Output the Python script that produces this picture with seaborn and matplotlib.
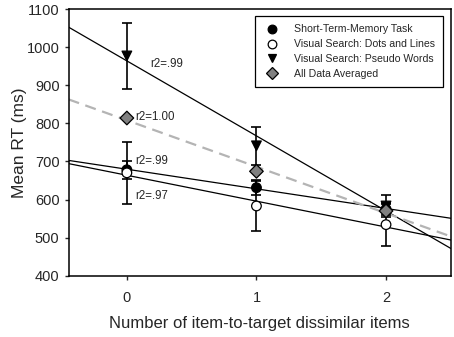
import numpy as np
import pandas as pd
import matplotlib.pyplot as plt
import seaborn as sns

sns.set_style("ticks")
plt.rcParams['font.family'] = ['Liberation Sans', 'DejaVu Sans']

# data
x_vals = [0, 1, 2]
stm = [678, 631, 575]
stm_err = [23, 19, 15]
dots = [670, 583, 534]
dots_err = [82, 65, 55]
pseudo = [977, 741, 583]
pseudo_err = [87, 50, 28]
avg = [814, 674, 570]

series_names = ['Short-Term-Memory Task', 'Visual Search: Dots and Lines',
                'Visual Search: Pseudo Words', 'All Data Averaged']

df = pd.DataFrame({
    'x': x_vals * 4,
    'rt': stm + dots + pseudo + avg,
    'group': np.repeat(series_names, 3),
})

fig = plt.figure(figsize=(4.54, 3.37), dpi=100)
ax = fig.add_axes([0.151, 0.182, 0.842, 0.791])
ax.set_xlim(-0.45, 2.5)
ax.set_ylim(400, 1100)

# regression lines (extend to axis limits)
for name in series_names:
    sub = df[df['group'] == name]
    if name == 'All Data Averaged':
        kws = dict(color='#b4b4b4', lw=1.6, ls=(0, (5, 3)))
    else:
        kws = dict(color='black', lw=0.9)
    sns.regplot(data=sub, x='x', y='rt', scatter=False, ci=None, truncate=False,
                line_kws=kws, ax=ax)

# error bars
for vals, err in [(stm, stm_err), (dots, dots_err), (pseudo, pseudo_err)]:
    ax.errorbar(x_vals, vals, yerr=err, fmt='none', ecolor='black', elinewidth=1.2,
                capsize=3.5, capthick=1.2, zorder=3)

markers = {series_names[0]: 'o', series_names[1]: 'o',
           series_names[2]: 'v', series_names[3]: 'D'}
palette = {series_names[0]: 'black', series_names[1]: 'white',
           series_names[2]: 'black', series_names[3]: '#808080'}
sns.scatterplot(data=df, x='x', y='rt', hue='group', style='group',
                markers=markers, palette=palette, hue_order=series_names,
                style_order=series_names, s=48, edgecolor='black',
                linewidth=0.9, zorder=4, ax=ax)

leg = ax.legend(loc='upper right', bbox_to_anchor=(0.98, 0.974), fontsize=7.6,
                frameon=True, fancybox=False, edgecolor='black', framealpha=1,
                handletextpad=1.3, handlelength=1.6, borderpad=0.8,
                labelspacing=0.45, markerscale=0.9, borderaxespad=0)
leg.get_frame().set_linewidth(0.9)
for h in leg.legend_handles:
    if hasattr(h, 'set_markeredgecolor'):
        h.set_markeredgecolor('black')
    else:
        h.set_edgecolor('black')

# r2 annotations
ax.text(0.18, 957, 'r2=.99', fontsize=8.3, va='center')
ax.text(0.065, 817, 'r2=1.00', fontsize=8.3, va='center')
ax.text(0.065, 700, 'r2=.99', fontsize=8.3, va='center')
ax.text(0.065, 608, 'r2=.97', fontsize=8.3, va='center')

ax.set_xticks(x_vals)
ax.set_yticks(range(400, 1101, 100))
ax.tick_params(axis='both', labelsize=10.5, length=3, width=1, direction='out')
ax.tick_params(axis='x', pad=8)
ax.set_xlabel('Number of item-to-target dissimilar items', fontsize=12, labelpad=8)
ax.set_ylabel('Mean RT (ms)', fontsize=12.5, labelpad=0)
for sp in ax.spines.values():
    sp.set_linewidth(1.1)
    sp.set_color('black')

fig.savefig('out.png', dpi=100)
